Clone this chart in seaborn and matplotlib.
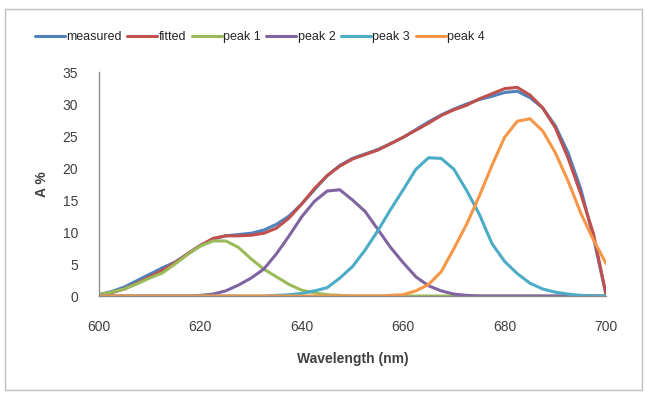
import matplotlib
matplotlib.use("Agg")
import matplotlib.pyplot as plt
import seaborn
import pandas
import numpy
from matplotlib.patches import Rectangle

# wavelength grid (nm) the values below were read on
wavelength = numpy.arange(600, 700.1, 2.5)

measured = [0.2, 0.7, 1.4, 2.4, 3.4, 4.4, 5.3, 6.6, 7.9, 8.9, 9.4, 9.6, 9.8, 10.3,
            11.2, 12.5, 14.4, 16.6, 18.8, 20.4, 21.5, 22.2, 22.9, 23.8, 24.8, 26.0,
            27.2, 28.3, 29.2, 30.0, 30.7, 31.2, 31.8, 32.0, 31.0, 29.4, 26.6, 22.4,
            16.8, 9.2, 0.2]
fitted = [0.2, 0.5, 1.1, 2.0, 3.0, 4.0, 5.2, 6.6, 7.9, 9.0, 9.4, 9.4, 9.5, 9.8,
          10.6, 12.2, 14.4, 16.8, 18.8, 20.3, 21.4, 22.1, 22.8, 23.8, 24.8, 25.9,
          27.0, 28.2, 29.1, 29.8, 30.8, 31.6, 32.4, 32.6, 31.4, 29.4, 26.3, 21.6,
          16.0, 9.8, 0.3]
peak1 = [0.2, 0.6, 1.1, 1.9, 2.8, 3.6, 5.0, 6.5, 7.8, 8.6, 8.6, 7.6, 5.8, 4.2,
         3.0, 1.8, 0.9, 0.5, 0.2, 0.1, 0.0, 0.0, 0.0, 0.0, 0.0, 0.0, 0.0, 0.0,
         0.0, 0.0, 0.0, 0.0, 0.0, 0.0, 0.0, 0.0, 0.0, 0.0, 0.0, 0.0, 0.0]
peak2 = [0.0, 0.0, 0.0, 0.0, 0.0, 0.0, 0.0, 0.0, 0.1, 0.3, 0.8, 1.7, 2.8, 4.2,
         6.6, 9.4, 12.4, 14.8, 16.4, 16.6, 15.0, 13.2, 10.4, 7.6, 5.2, 3.0, 1.6, 0.8,
         0.3, 0.1, 0.0, 0.0, 0.0, 0.0, 0.0, 0.0, 0.0, 0.0, 0.0, 0.0, 0.0]
peak3 = [0.0, 0.0, 0.0, 0.0, 0.0, 0.0, 0.0, 0.0, 0.0, 0.0, 0.0, 0.0, 0.0, 0.0,
         0.1, 0.2, 0.4, 0.8, 1.3, 2.8, 4.6, 7.2, 10.2, 13.5, 16.6, 19.8, 21.6, 21.5,
         19.8, 16.5, 12.8, 8.2, 5.4, 3.5, 2.0, 1.1, 0.6, 0.3, 0.1, 0.0, 0.0]
peak4 = [0.0, 0.0, 0.0, 0.0, 0.0, 0.0, 0.0, 0.0, 0.0, 0.0, 0.0, 0.0, 0.0, 0.0,
         0.0, 0.0, 0.0, 0.0, 0.0, 0.0, 0.0, 0.0, 0.0, 0.1, 0.2, 0.8, 1.8, 3.8,
         7.4, 11.2, 15.6, 20.4, 24.8, 27.3, 27.7, 25.8, 22.4, 18.0, 13.0, 8.8, 5.1]

series_names = ["measured", "fitted", "peak 1", "peak 2", "peak 3", "peak 4"]
series_values = [measured, fitted, peak1, peak2, peak3, peak4]
colors = ["#4F81BD", "#C0504D", "#9BBB59", "#8064A2", "#4BACC6", "#F79646"]

frames = []
for name, vals in zip(series_names, series_values):
    frames.append(pandas.DataFrame({"Wavelength": wavelength, "A": vals, "series": name}))
data = pandas.concat(frames, ignore_index=True)

seaborn.set_style("white")
plt.rcParams["font.family"] = ["Liberation Sans", "DejaVu Sans"]

fig = plt.figure(figsize=(6.5, 3.95), dpi=100)
ax = fig.add_axes([99 / 650, 1 - 296 / 395, 507 / 650, 224 / 395])

seaborn.lineplot(data=data, x="Wavelength", y="A", hue="series",
                 hue_order=series_names, palette=colors, linewidth=2.2,
                 ax=ax, legend=True, solid_joinstyle="round", solid_capstyle="round")

ax.set_xlim(600, 700)
ax.set_ylim(0, 35)
ax.set_xticks(range(600, 701, 20))
ax.set_yticks(range(0, 36, 5))
for side in ["top", "right"]:
    ax.spines[side].set_visible(False)
for side in ["left", "bottom"]:
    ax.spines[side].set_color("#8c8c8c")
    ax.spines[side].set_linewidth(1.0)
ax.tick_params(axis="x", direction="out", length=4, color="#8c8c8c", pad=13.5,
               labelsize=10, labelcolor="#404040")
ax.tick_params(axis="y", direction="out", length=4, color="#8c8c8c", pad=11,
               labelsize=10, labelcolor="#404040")
ax.set_xlabel("Wavelength (nm)", fontsize=10, fontweight="bold", color="#404040", labelpad=13)
ax.set_ylabel("A %", fontsize=10, fontweight="bold", color="#404040", labelpad=10)

handles, labels = ax.get_legend_handles_labels()
ax.get_legend().remove()
fig.legend(handles, labels, loc="center left", bbox_to_anchor=(35 / 650, 1 - 37 / 395),
           ncol=6, frameon=False, fontsize=9, handlelength=2.4, handletextpad=0.1,
           columnspacing=0.45, borderpad=0, borderaxespad=0)

fig.patches.append(Rectangle((5 / 650, 1 - 390 / 395), 637 / 650, 381 / 395,
                             transform=fig.transFigure, fill=False,
                             edgecolor="#bfbfbf", linewidth=1.0))

fig.savefig("out.png", dpi=100)
plt.close(fig)
